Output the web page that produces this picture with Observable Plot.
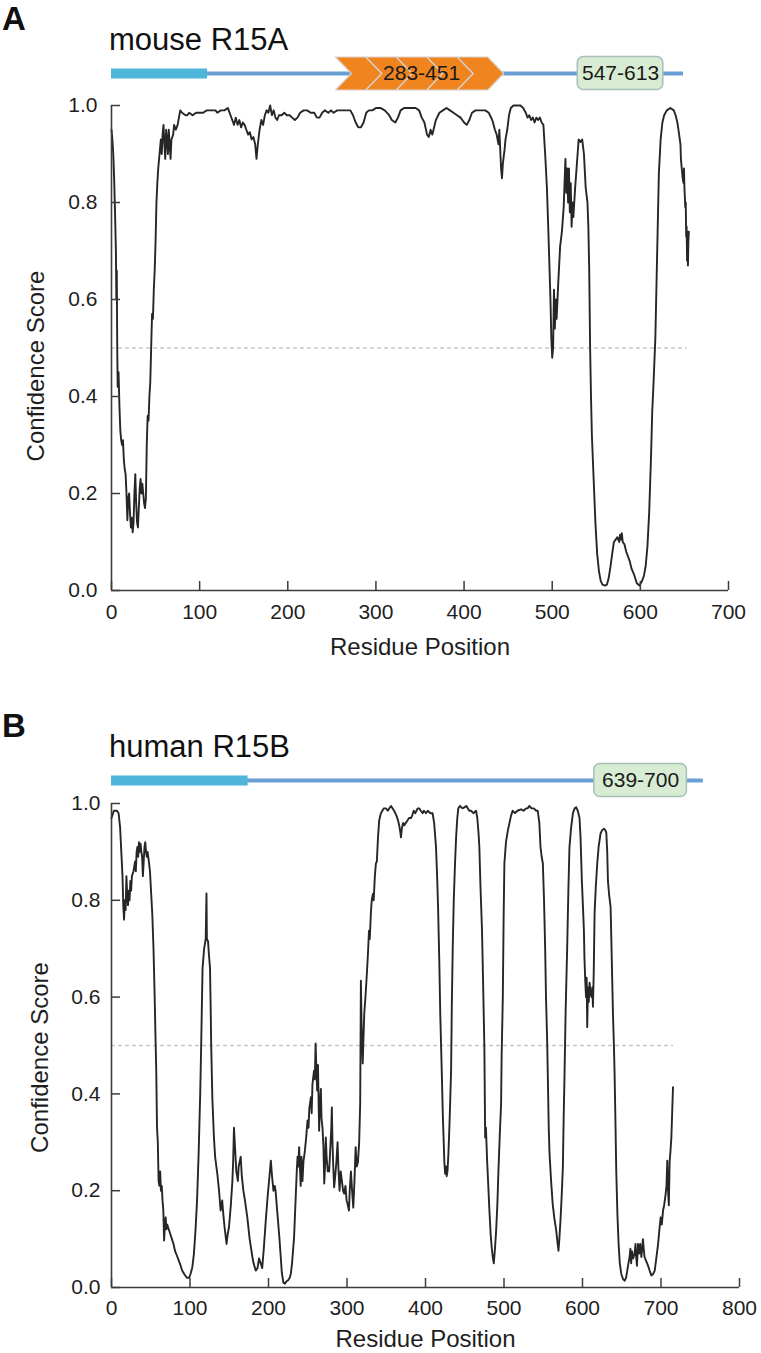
<!DOCTYPE html>
<html><head><meta charset="utf-8">
<script src="https://cdn.jsdelivr.net/npm/d3@7"></script>
<script src="https://cdn.jsdelivr.net/npm/@observablehq/plot@0.6"></script>
<style>
html,body{margin:0;padding:0;background:#fff;}
#page{position:relative;width:761px;height:1353px;overflow:hidden;font-family:"Liberation Sans",Arial,Helvetica,sans-serif;}
#page > *{position:absolute;left:0;}
svg{overflow:visible;}
</style></head><body><div id="page"></div>
<script>
// ---------------- DATA ----------------
const panelLetters = ["A", "B"];
const panelTitles = ["mouse R15A", "human R15B"];
const xTicksA = [0, 100, 200, 300, 400, 500, 600, 700];
const xTicksB = [0, 100, 200, 300, 400, 500, 600, 700, 800];
const yTicks = [0, 0.2, 0.4, 0.6, 0.8, 1.0];
const threshold = 0.5;

// domain architecture (residue units as drawn)
const domainA = {disorderedEnd: 109, proteinEnd: 649, repeatStart: 254, repeatEnd: 445, repeatLabel: "283-451", boxStart: 529, boxEnd: 626, boxLabel: "547-613"};
const domainB = {disorderedEnd: 174, proteinEnd: 754, boxStart: 615, boxEnd: 733, boxLabel: "639-700"};

// [residue, confidence score]
const profileA = [
[0,0.95],[1,0.93],[2,0.9],[3,0.85],[4,0.78],[5,0.7],[5.5,0.6],[6,0.66],[6.5,0.5],[7,0.42],[8,0.45],[9,0.38],[10,0.33],[11,0.31],[12,0.3],[13,0.31],[14,0.27],[15,0.25],[16,0.24],[17,0.2],[18,0.145],[19,0.19],[20,0.2],[21,0.16],[22,0.13],[23,0.15],[24,0.12],[25,0.14],[26,0.2],[27,0.24],[28,0.18],[29,0.14],[30,0.13],[31,0.17],[32,0.21],[33,0.23],[34,0.2],[35,0.22],[36,0.2],[37,0.18],[38,0.17],[39,0.19],[40,0.3],[41,0.36],[42,0.35],[43,0.4],[44,0.43],[45,0.5],[46,0.57],[47,0.56],[48,0.62],[49,0.66],[50,0.72],[51,0.8],[52,0.84],[53,0.87],[54,0.89],[55,0.91],[56,0.93],[57,0.9],[58,0.94],[59,0.96],[60,0.92],[61,0.89],[62,0.95],[63,0.93],[64,0.9],[65,0.95],[66,0.92],[67,0.89],[68,0.93],[70,0.94],[71,0.96],[73,0.95],[75,0.96],[77,0.98],[78,0.99],[80,0.985],[84,0.98],[86,0.98],[88,0.985],[92,0.98],[96,0.985],[100,0.985],[104,0.985],[108,0.99],[112,0.99],[118,0.99],[120,0.985],[124,0.99],[128,0.99],[132,0.995],[135,0.98],[137,0.97],[139,0.96],[141,0.975],[143,0.96],[145,0.97],[147,0.955],[149,0.965],[151,0.96],[153,0.95],[155,0.94],[157,0.945],[159,0.93],[161,0.935],[163,0.92],[164.5,0.89],[166,0.92],[168,0.95],[170,0.97],[172,0.96],[174,0.98],[176,0.99],[178,0.985],[180,1.0],[182,0.98],[184,0.99],[186,0.975],[188,0.97],[190,0.98],[193,0.98],[196,0.985],[199,0.98],[202,0.98],[205,0.975],[208,0.97],[211,0.975],[214,0.985],[218,0.99],[222,0.99],[226,0.985],[230,0.985],[233,0.975],[236,0.975],[239,0.985],[242,0.99],[246,0.985],[249,0.99],[252,0.985],[256,0.99],[260,0.99],[264,0.99],[268,0.99],[271,0.99],[274,0.98],[277,0.965],[280,0.955],[283,0.955],[286,0.965],[289,0.985],[292,0.99],[296,0.99],[300,0.995],[305,0.995],[310,0.99],[315,0.98],[318,0.97],[322,0.965],[325,0.975],[328,0.99],[332,0.995],[336,0.995],[340,0.995],[345,0.995],[349,0.99],[352,0.975],[355,0.965],[358,0.94],[360,0.935],[362,0.95],[364,0.94],[366,0.955],[368,0.97],[372,0.985],[376,0.99],[380,0.995],[384,0.99],[388,0.985],[392,0.98],[396,0.975],[400,0.965],[403,0.96],[406,0.97],[409,0.985],[413,0.99],[418,0.99],[424,0.99],[428,0.985],[432,0.97],[435,0.95],[437,0.94],[439,0.92],[440,0.95],[442,0.87],[443,0.85],[444,0.88],[446,0.91],[447,0.93],[449,0.95],[451,0.98],[453,0.995],[456,1.0],[460,1.0],[464,1.0],[467,0.995],[470,0.985],[472,0.975],[474,0.98],[476,0.97],[478,0.975],[480,0.965],[482,0.975],[484,0.97],[486,0.975],[488,0.965],[490,0.96],[492,0.9],[494,0.83],[496,0.72],[498,0.6],[499,0.52],[500,0.48],[501,0.5],[502,0.62],[503,0.54],[504,0.6],[505,0.56],[507,0.64],[509,0.71],[511,0.74],[513,0.79],[515,0.89],[516,0.82],[517,0.87],[518,0.8],[519,0.87],[520,0.78],[521,0.84],[522,0.75],[523,0.8],[524,0.77],[526,0.83],[528,0.88],[530,0.93],[532,0.925],[534,0.93],[536,0.9],[538,0.83],[540,0.8],[541,0.75],[542,0.66],[543,0.5],[544,0.4],[545,0.32],[547,0.23],[549,0.14],[551,0.076],[553,0.04],[555,0.02],[557,0.012],[560,0.01],[562,0.012],[564,0.025],[566,0.048],[568,0.075],[570,0.1],[572,0.105],[574,0.11],[576,0.1],[577,0.115],[578,0.105],[579,0.118],[580,0.1],[582,0.095],[584,0.08],[586,0.07],[588,0.06],[590,0.045],[593,0.032],[596,0.015],[599,0.01],[602,0.02],[604,0.03],[606,0.05],[608,0.09],[610,0.16],[612,0.27],[613.5,0.37],[615,0.43],[617,0.52],[619,0.69],[621,0.86],[623,0.93],[625,0.965],[627,0.98],[630,0.99],[634,0.995],[638,0.99],[640,0.98],[642,0.965],[644,0.94],[645.5,0.92],[646,0.89],[647,0.87],[648,0.85],[649,0.84],[649.5,0.87],[650,0.83],[651,0.79],[651.5,0.8],[652,0.73],[652.5,0.75],[653,0.68],[653.5,0.74],[654,0.67],[654.5,0.72],[655,0.74]
];

const profileB = [
[0,0.97],[3,0.985],[5,0.985],[7,0.985],[9,0.98],[11,0.95],[12.5,0.9],[14,0.85],[15,0.79],[16,0.76],[17,0.8],[18,0.78],[19,0.85],[20,0.81],[21,0.79],[22,0.82],[23,0.8],[24,0.84],[25,0.82],[26,0.85],[28,0.86],[30,0.88],[31,0.86],[32,0.9],[33,0.91],[34,0.89],[35,0.92],[36,0.9],[37,0.917],[38,0.9],[39,0.89],[40,0.85],[41,0.88],[42,0.91],[43,0.92],[44,0.9],[45,0.89],[46,0.9],[47.6,0.88],[49,0.86],[50,0.83],[52,0.77],[53.5,0.7],[55,0.6],[56,0.52],[57,0.45],[58,0.33],[59,0.3],[60,0.22],[61,0.21],[62,0.24],[63,0.2],[64,0.21],[65,0.18],[66,0.16],[67,0.097],[68,0.13],[69,0.145],[70,0.12],[71,0.13],[73,0.12],[75,0.11],[77,0.1],[79,0.09],[81,0.075],[84,0.063],[87,0.05],[90,0.035],[93,0.027],[96,0.02],[99,0.02],[101,0.03],[103,0.042],[105,0.07],[107,0.118],[109,0.18],[111,0.277],[113,0.4],[114,0.48],[115,0.57],[116,0.66],[117,0.68],[118,0.7],[119,0.71],[120,0.72],[121,0.814],[121.5,0.72],[123,0.715],[124,0.69],[125.5,0.66],[126.5,0.56],[127,0.5],[128.5,0.39],[130.5,0.31],[132,0.27],[134.8,0.235],[137,0.2],[139,0.159],[141,0.18],[142.5,0.15],[144,0.125],[146.6,0.09],[148,0.11],[149.7,0.125],[152,0.17],[154,0.22],[155,0.26],[156,0.33],[157,0.3],[158,0.27],[159,0.24],[161,0.22],[162,0.25],[164.6,0.27],[166,0.23],[168,0.2],[170,0.18],[173,0.145],[176,0.1],[179.5,0.063],[181,0.05],[183.7,0.035],[186,0.04],[188,0.06],[190,0.05],[192,0.04],[194,0.08],[196.5,0.138],[199,0.19],[200.7,0.22],[203,0.262],[204.5,0.23],[206.3,0.2],[208,0.21],[209,0.2],[211,0.16],[212,0.14],[214,0.1],[215.6,0.063],[217,0.03],[219,0.01],[221,0.008],[223,0.013],[225,0.015],[227,0.02],[228.4,0.028],[230,0.05],[232.6,0.104],[234,0.16],[236,0.24],[237,0.27],[238,0.25],[239,0.29],[240,0.25],[241,0.21],[242,0.27],[243.3,0.22],[244.5,0.26],[246.2,0.28],[248,0.31],[249.7,0.345],[251,0.33],[252,0.37],[254,0.393],[255,0.36],[256,0.42],[258,0.448],[259,0.43],[260,0.504],[261,0.45],[262,0.407],[263,0.46],[264.5,0.324],[265.5,0.38],[266.7,0.41],[267.5,0.35],[268.8,0.33],[270,0.29],[271,0.215],[272,0.25],[273,0.31],[274,0.27],[275.5,0.24],[277.3,0.24],[278.5,0.28],[280,0.33],[280.7,0.372],[281.5,0.3],[282.5,0.25],[283.6,0.207],[285,0.23],[286.5,0.26],[288,0.3],[289,0.25],[290.5,0.2],[292,0.24],[293.5,0.22],[295,0.2],[296.4,0.194],[298,0.21],[299.5,0.18],[300.7,0.173],[302.5,0.159],[303.5,0.2],[305,0.24],[306.5,0.2],[308,0.165],[309.5,0.22],[311,0.29],[312.5,0.25],[314,0.26],[315.5,0.3],[316.8,0.38],[317.7,0.634],[318.5,0.55],[320,0.463],[322,0.566],[323.5,0.6],[325,0.64],[326,0.669],[327,0.7],[328,0.737],[329,0.72],[330.4,0.773],[331.5,0.8],[333,0.813],[334,0.8],[335.5,0.85],[336.8,0.876],[338,0.88],[339.5,0.93],[341,0.965],[343,0.979],[345,0.985],[347,0.99],[349.6,0.99],[352,0.985],[354,0.99],[356,0.995],[358,0.99],[360,0.985],[361.5,0.98],[363,0.975],[365,0.965],[366.5,0.955],[368,0.94],[368.7,0.93],[370,0.95],[371.5,0.96],[373,0.955],[375,0.96],[377,0.965],[379,0.97],[381.5,0.97],[383,0.975],[385,0.985],[387,0.98],[388.5,0.985],[390,0.99],[392,0.99],[394,0.985],[396.4,0.98],[398,0.985],[400.6,0.98],[403,0.985],[406,0.98],[409,0.98],[411,0.96],[413.4,0.91],[415,0.84],[416,0.786],[417.5,0.68],[418.8,0.566],[420,0.49],[421,0.428],[422,0.36],[423,0.31],[424,0.26],[425,0.235],[426,0.25],[427,0.23],[428,0.24],[429,0.27],[430,0.31],[431,0.36],[432.6,0.448],[433.5,0.58],[434.7,0.703],[436,0.8],[437.6,0.876],[439,0.93],[440.5,0.97],[441.8,0.99],[444,0.995],[447,0.99],[449.5,0.992],[452,0.995],[455.8,0.985],[458,0.985],[461,0.98],[464.4,0.985],[466,0.97],[467.5,0.94],[468.6,0.91],[470,0.83],[472,0.737],[473.5,0.62],[475,0.496],[476,0.31],[477,0.33],[478.5,0.262],[480,0.21],[481.4,0.159],[483,0.11],[484.5,0.08],[485.7,0.063],[487,0.05],[488.5,0.08],[490,0.118],[491.5,0.17],[492.9,0.24],[494.5,0.31],[496.3,0.38],[497,0.48],[498.5,0.6],[499.5,0.76],[500.5,0.876],[502.5,0.92],[504.9,0.944],[507,0.96],[509,0.975],[511,0.985],[514,0.98],[517,0.985],[521.8,0.988],[525,0.985],[528,0.99],[530,0.99],[532.4,0.995],[535,0.99],[538,0.99],[541,0.985],[543,0.985],[545,0.96],[546.5,0.91],[548,0.89],[549.5,0.876],[551,0.8],[552.4,0.703],[553.5,0.6],[555,0.51],[556,0.42],[557,0.33],[558,0.277],[560,0.22],[562,0.173],[564,0.145],[566.5,0.118],[568,0.095],[569.4,0.076],[570.5,0.1],[572,0.14],[573.5,0.19],[575,0.249],[576,0.35],[577,0.43],[578.5,0.57],[580.5,0.703],[582,0.82],[583.4,0.91],[585.5,0.95],[587.8,0.98],[590,0.99],[592,0.992],[594,0.985],[596.2,0.97],[597.5,0.93],[599.2,0.84],[600.5,0.79],[601.8,0.737],[602.5,0.68],[603.5,0.634],[604.5,0.6],[605.3,0.64],[606,0.538],[607,0.62],[608,0.59],[609,0.63],[610.3,0.607],[611.5,0.6],[612.5,0.62],[613.3,0.58],[614.3,0.65],[615.4,0.773],[617,0.83],[618.8,0.876],[620.5,0.91],[623,0.938],[625,0.945],[627.3,0.948],[629,0.945],[630.3,0.94],[631.5,0.9],[632.4,0.84],[634,0.81],[635.8,0.786],[637,0.7],[638.8,0.566],[640,0.5],[640.8,0.448],[642,0.34],[643,0.24],[644.5,0.15],[646,0.09],[647.5,0.05],[649.4,0.028],[651.5,0.018],[653.6,0.014],[655.5,0.02],[657,0.035],[658.5,0.05],[660,0.063],[661,0.08],[662,0.05],[663,0.075],[664.5,0.06],[666.4,0.07],[667.5,0.09],[668.5,0.06],[669.4,0.045],[670.7,0.09],[672,0.07],[673.5,0.09],[675,0.063],[676,0.08],[677,0.1],[678,0.08],[679,0.063],[681,0.055],[683.5,0.045],[685.5,0.035],[687.7,0.025],[690,0.028],[692,0.035],[694,0.06],[696.3,0.09],[698,0.12],[699.6,0.145],[701,0.13],[702.6,0.159],[704,0.17],[705.7,0.19],[707,0.21],[708,0.262],[709,0.2],[710,0.17],[711,0.26],[712,0.28],[713.2,0.31],[714.2,0.36],[715.3,0.414]
];

// ---------------- RENDER ----------------
const FONT = '"Liberation Sans", Arial, Helvetica, sans-serif';
const W = 761, ML = 111;
const page = document.getElementById("page");

function place(node, top) {
  node.style.top = top + "px";
  node.style.left = "0px";
  page.appendChild(node);
}

function domainBar({xMax, marginRight, dom, top}) {
  const innerW = W - ML - marginRight;
  const xPerPx = xMax / innerW;
  const marks = [
    Plot.ruleY([0], {x1: 0, x2: dom.proteinEnd, stroke: "#6a9fd6", strokeWidth: 4}),
    Plot.ruleY([0], {x1: 0, x2: dom.disorderedEnd, stroke: "#4db6d9", strokeWidth: 10})
  ];
  if (dom.repeatStart != null) {
    const n = 5, d = 16 * xPerPx, h = 0.75;
    const w = (dom.repeatEnd - dom.repeatStart - d) / n;
    const pts = [];
    for (let k = 0; k < n; k++) {
      const x0 = dom.repeatStart + k * w;
      [[x0, h], [x0 + w, h], [x0 + w + d, 0], [x0 + w, -h], [x0, -h], [x0 + d, 0], [x0, h]]
        .forEach(([x, y]) => pts.push({k, x, y}));
    }
    marks.push(Plot.line(pts, {x: "x", y: "y", z: "k", fill: "#f0841f", stroke: "#d7d2cf", strokeWidth: 1.2, strokeLinejoin: "miter"}));
    marks.push(Plot.text([dom.repeatLabel], {x: (dom.repeatStart + dom.repeatEnd) / 2 + 2 * xPerPx, y: 0, fontSize: 21, fill: "#1a1a1a"}));
  }
  marks.push(Plot.rect([dom], {x1: "boxStart", x2: "boxEnd", y1: -0.75, y2: 0.75, rx: 6, fill: "#d8ecd3", stroke: "#a7bfb8", strokeWidth: 1.5}));
  marks.push(Plot.text([dom.boxLabel], {x: (dom.boxStart + dom.boxEnd) / 2, y: 0, fontSize: 21, fill: "#1a1a1a"}));
  const svg = Plot.plot({
    width: W, height: 44, marginLeft: ML, marginRight, marginTop: 0, marginBottom: 0,
    style: {fontFamily: FONT, background: "transparent", overflow: "visible"},
    x: {domain: [0, xMax], axis: null}, y: {domain: [-1, 1], axis: null},
    marks
  });
  place(svg, top);
}

function mainPlot({profile, xMax, xTicks, marginRight, top, marginBottom, innerH, dashEnd, padY, padX, ylabDx, ylabDy, titleDy}) {
  const MT = 13;
  const innerW = W - ML - marginRight;
  const xPerPx = xMax / innerW, yPerPx = 1 / innerH;
  const axisStroke = "#3c3c3c";
  const svg = Plot.plot({
    width: W, height: MT + innerH + marginBottom,
    marginLeft: ML, marginRight, marginTop: MT, marginBottom,
    style: {fontFamily: FONT, fontSize: "21px", color: "#1e1e1e", background: "transparent", overflow: "visible"},
    x: {domain: [0, xMax]}, y: {domain: [0, 1]},
    marks: [
      Plot.ruleY([threshold], {x1: 0, x2: dashEnd, stroke: "#c9c9c9", strokeWidth: 1.3, strokeDasharray: "4,3"}),
      Plot.line(profile, {x: d => d[0], y: d => d[1], stroke: "#262626", strokeWidth: 1.9, strokeLinejoin: "round"}),
      Plot.ruleX([0], {y1: 0, y2: 1, stroke: axisStroke, strokeWidth: 1.6}),
      Plot.ruleY([0], {x1: 0, x2: xMax, stroke: axisStroke, strokeWidth: 1.6}),
      Plot.ruleY(yTicks, {y: d => d, x1: 0, x2: 9 * xPerPx, stroke: axisStroke, strokeWidth: 1.5}),
      Plot.ruleX(xTicks, {x: d => d, y1: 0, y2: 9 * yPerPx, stroke: axisStroke, strokeWidth: 1.5}),
      Plot.axisX(xTicks, {tickSize: 0, tickPadding: padX, label: null, fontSize: 21}),
      Plot.axisY(yTicks, {tickSize: 0, tickPadding: padY, label: null, fontSize: 21, tickFormat: d3.format(".1f")}),
      Plot.text(["Residue Position"], {frameAnchor: "bottom", textAnchor: "middle", dy: titleDy, lineAnchor: "bottom", fontSize: 24, fill: "#1e1e1e"}),
      Plot.text(["Confidence Score"], {frameAnchor: "left", textAnchor: "middle", lineAnchor: "middle", rotate: -90, dx: ylabDx, dy: ylabDy, fontSize: 24, fill: "#1e1e1e"})
    ]
  });
  place(svg, top);
}

// header texts (panel letters and titles)
const ns = "http://www.w3.org/2000/svg";
const head = document.createElementNS(ns, "svg");
head.setAttribute("width", W); head.setAttribute("height", 1353);
head.style.pointerEvents = "none";
[[panelLetters[0], 2, 30, 33, "bold"], [panelTitles[0], 109, 50, 31, "normal"],
 [panelLetters[1], 2, 737, 33, "bold"], [panelTitles[1], 109, 757, 31, "normal"]].forEach(([t, x, y, fs, fw]) => {
  const el = document.createElementNS(ns, "text");
  el.setAttribute("x", x); el.setAttribute("y", y);
  el.setAttribute("font-family", FONT); el.setAttribute("font-size", fs);
  el.setAttribute("font-weight", fw); el.setAttribute("fill", "#111");
  el.textContent = t;
  head.appendChild(el);
});

domainBar({xMax: 700, marginRight: 33, dom: domainA, top: 51});
mainPlot({profile: profileA, xMax: 700, xTicks: xTicksA, marginRight: 33, top: 92, marginBottom: 70, innerH: 485,
  dashEnd: 653, padY: 14, padX: 14, ylabDx: -75, ylabDy: 18, titleDy: 64});

domainBar({xMax: 800, marginRight: 22, dom: domainB, top: 758});
mainPlot({profile: profileB, xMax: 800, xTicks: xTicksB, marginRight: 22, top: 790, marginBottom: 66, innerH: 484,
  dashEnd: 716, padY: 11, padX: 13, ylabDx: -71, ylabDy: 12, titleDy: 59});

place(head, 0);
</script>
</body></html>
